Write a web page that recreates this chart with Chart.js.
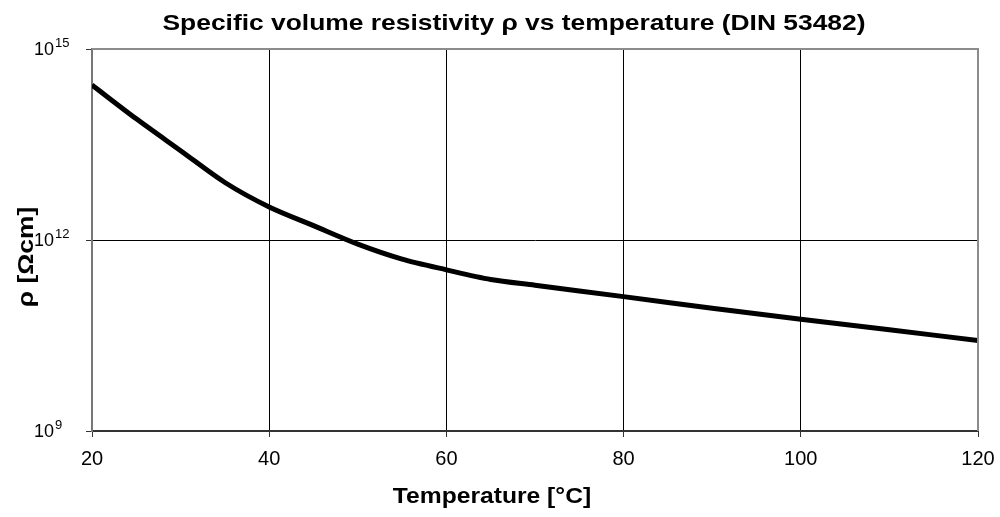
<!DOCTYPE html>
<html>
<head>
<meta charset="utf-8">
<script src="https://cdn.jsdelivr.net/npm/chart.js@4/dist/chart.umd.min.js"></script>
<style>
  html, body { margin: 0; padding: 0; background: #fff; }
  #wrap { width: 1000px; height: 517px; }
</style>
</head>
<body>
<div id="wrap"><canvas id="rhoChart"></canvas></div>
<script>
// temperature in °C and specific volume resistivity in Ohm*cm
const temps = [20, 25, 30, 35, 40, 45, 50, 55, 60, 65, 70, 80, 90, 100, 110, 120];
const rho = [2.72e14, 8.0e13, 2.53e13, 8.0e12, 3.3e12, 1.68e12, 8.6e11, 5.0e11, 3.4e11,
             2.4e11, 1.95e11, 1.29e11, 8.5e10, 5.7e10, 3.9e10, 2.63e10];
const xTicks = [20, 40, 60, 80, 100, 120];
const yExponents = [9, 12, 15];

const chartTitle = 'Specific volume resistivity ρ vs temperature (DIN 53482)';
const xTitle = 'Temperature [°C]';
const yTitle = 'ρ [Ωcm]';

const FONT = "'Liberation Sans', Arial, sans-serif";

// text stretched sideways a bit, like the original export
function wideText(ctx, text, x, y, sx) {
  ctx.save();
  ctx.translate(x, y);
  ctx.scale(sx, 1);
  ctx.fillText(text, 0, 0);
  ctx.restore();
}

// draws the 10^n labels, the titles and the grey frame
const decor = {
  id: 'decor',
  afterDraw(chart) {
    const ctx = chart.ctx;
    const area = chart.chartArea;
    const y = chart.scales.y;

    ctx.save();
    ctx.fillStyle = '#000';
    yExponents.forEach(function (e) {
      const py = y.getPixelForValue(Math.pow(10, e));
      ctx.font = '18px ' + FONT;
      ctx.textAlign = 'right';
      ctx.textBaseline = 'middle';
      ctx.fillText('10', area.left - 38, py + 1);
      ctx.font = '13px ' + FONT;
      ctx.textAlign = 'left';
      ctx.fillText(String(e), area.left - 37, py - 6);
    });

    // frame top / right
    ctx.strokeStyle = '#8c8c8c';
    ctx.lineWidth = 2;
    ctx.beginPath();
    ctx.moveTo(area.left, area.top);
    ctx.lineTo(area.right, area.top);
    ctx.lineTo(area.right, area.bottom);
    ctx.stroke();

    ctx.font = 'bold 22px ' + FONT;
    ctx.textAlign = 'center';
    ctx.textBaseline = 'alphabetic';
    wideText(ctx, chartTitle, 514, 30, 1.2);
    wideText(ctx, xTitle, 492, 503, 1.12);

    ctx.textBaseline = 'middle';
    ctx.translate(27, 257);
    ctx.rotate(-Math.PI / 2);
    wideText(ctx, yTitle, 0, 0, 1.2);
    ctx.restore();
  }
};

const points = temps.map(function (t, i) { return { x: t, y: rho[i] }; });

new Chart(document.getElementById('rhoChart'), {
  type: 'line',
  data: {
    datasets: [{
      label: 'ρ',
      data: points,
      borderColor: '#000',
      borderWidth: 5,
      pointRadius: 0,
      fill: false,
      tension: 0.3
    }]
  },
  options: {
    responsive: true,
    maintainAspectRatio: false,
    animation: false,
    layout: { padding: { left: 28, right: 22, top: 49, bottom: 0 } },
    plugins: {
      legend: { display: false },
      tooltip: { enabled: false },
      title: { display: false }
    },
    scales: {
      x: {
        type: 'linear',
        min: 20,
        max: 120,
        afterBuildTicks: function (scale) {
          scale.ticks = xTicks.map(function (v) { return { value: v }; });
        },
        afterFit: function (scale) {
          scale.height = 86;
          scale.paddingLeft = 0;
          scale.paddingRight = 0;
        },
        grid: { color: '#000', lineWidth: 1, tickLength: 6, tickColor: '#333' },
        border: { color: '#333', width: 2 },
        ticks: { color: '#000', padding: 10, maxRotation: 0, font: { family: FONT, size: 20 } }
      },
      y: {
        type: 'logarithmic',
        min: 1e9,
        max: 1e15,
        afterBuildTicks: function (scale) {
          scale.ticks = yExponents.map(function (e) { return { value: Math.pow(10, e) }; });
        },
        afterFit: function (scale) {
          scale.width = 64;
          scale.paddingTop = 0;
          scale.paddingBottom = 0;
        },
        grid: { color: '#000', lineWidth: 1, tickLength: 6, tickColor: '#333' },
        border: { color: '#777', width: 2 },
        ticks: { display: false }
      }
    }
  },
  plugins: [decor]
});
</script>
</body>
</html>
